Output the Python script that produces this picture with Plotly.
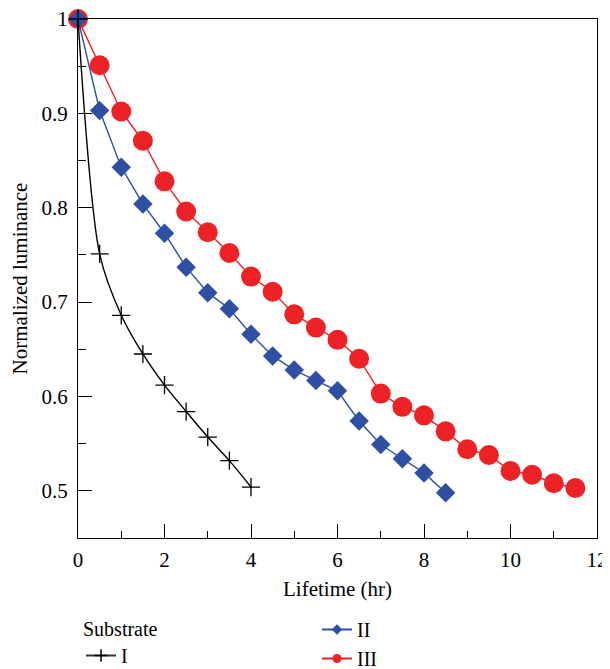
import plotly.graph_objects as go

# ---- data ----
x_I = [0, 0.5, 1.0, 1.5, 2.0, 2.5, 3.0, 3.5, 4.0]
y_I = [1.0, 0.751, 0.686, 0.645, 0.612, 0.584, 0.557, 0.532, 0.504]

x_II = [0, 0.5, 1.0, 1.5, 2.0, 2.5, 3.0, 3.5, 4.0, 4.5, 5.0, 5.5, 6.0, 6.5, 7.0, 7.5, 8.0, 8.5]
y_II = [1.0, 0.903, 0.843, 0.804, 0.773, 0.737, 0.710, 0.693, 0.666, 0.643, 0.628,
        0.617, 0.606, 0.574, 0.549, 0.534, 0.519, 0.498]

x_III = [0, 0.5, 1.0, 1.5, 2.0, 2.5, 3.0, 3.5, 4.0, 4.5, 5.0, 5.5, 6.0, 6.5, 7.0, 7.5,
         8.0, 8.5, 9.0, 9.5, 10.0, 10.5, 11.0, 11.5]
y_III = [1.0, 0.951, 0.902, 0.871, 0.828, 0.796, 0.774, 0.752, 0.727, 0.711, 0.687,
         0.673, 0.660, 0.640, 0.603, 0.589, 0.580, 0.563, 0.544, 0.538, 0.521, 0.517,
         0.508, 0.503]

names = ["I", "II", "III"]
x_ticks = [0, 2, 4, 6, 8, 10, 12]
y_ticks = [0.5, 0.6, 0.7, 0.8, 0.9, 1.0]
y_ticktext = ["0.5", "0.6", "0.7", "0.8", "0.9", "1"]

RED = "#ED2226"
BLUE = "#2E4FA2"
BLACK = "#000000"
FONT = "Liberation Serif"

# the page body has an 8px margin, so the figure is drawn offset by 8px
OFF = 8
W = 610 - OFF
H = 669 - OFF + 24          # a little taller than the window so the legend is not clipped
ML, MR, MT = 78 - OFF, 13, 19 - OFF
PLOT_BOTTOM = 538 - OFF
PAPER_H = H - MT
PAPER_W = W - ML - MR

fig = go.Figure()

# data traces (drawn order: III below, II, I on top)
fig.add_trace(go.Scatter(x=x_III, y=y_III, mode="lines+markers", showlegend=False, cliponaxis=False,
                         line=dict(color=RED, width=1.4),
                         marker=dict(symbol="circle", size=20, color=RED, line=dict(width=0))))
fig.add_trace(go.Scatter(x=x_II, y=y_II, mode="lines+markers", showlegend=False, cliponaxis=False,
                         line=dict(color=BLUE, width=1.4),
                         marker=dict(symbol="diamond", size=15, color=BLUE, line=dict(width=0))))
fig.add_trace(go.Scatter(x=x_I, y=y_I, mode="lines+markers", showlegend=False, cliponaxis=False,
                         line=dict(color=BLACK, width=1.4, shape="spline", smoothing=0.8),
                         marker=dict(symbol="cross-thin", size=13, color=BLACK,
                                     line=dict(width=1.3, color=BLACK))))

# legend entries
fig.add_trace(go.Scatter(x=[None], y=[None], mode="lines+markers", name=names[0],
                         legend="legend",
                         line=dict(color="#333333", width=2),
                         marker=dict(symbol="cross-thin", size=9, color=BLACK,
                                     line=dict(width=1.5, color=BLACK))))
fig.add_trace(go.Scatter(x=[None], y=[None], mode="lines+markers", name=names[1],
                         legend="legend2",
                         line=dict(color=BLUE, width=2),
                         marker=dict(symbol="diamond", size=8, color=BLUE, line=dict(width=0))))
fig.add_trace(go.Scatter(x=[None], y=[None], mode="lines+markers", name=names[2],
                         legend="legend2",
                         line=dict(color=RED, width=2),
                         marker=dict(symbol="circle", size=9, color=RED, line=dict(width=0))))

axis_common = dict(
    showline=True, linecolor=BLACK, linewidth=1.3, mirror=True,
    ticks="inside", tickcolor=BLACK, tickwidth=1.3, ticklen=14,
    showgrid=False, zeroline=False, automargin=False,
    ticklabeloverflow="allow",
    tickfont=dict(family=FONT, size=21, color=BLACK),
)

leg_top = (H - 602) / PAPER_H

fig.update_layout(
    width=W, height=H,
    margin=dict(l=ML, r=MR, t=MT, b=0, autoexpand=False),
    paper_bgcolor="white", plot_bgcolor="white",
    font=dict(family=FONT, size=20, color=BLACK),
    xaxis=dict(range=[0, 12], tickvals=x_ticks, ticklabelstandoff=3,
               minor=dict(dtick=1, tick0=0, ticks="inside", ticklen=7, tickwidth=1.3, tickcolor=BLACK),
               title=dict(text="Lifetime (hr)", standoff=9, font=dict(family=FONT, size=21)),
               **axis_common),
    yaxis=dict(range=[0.45, 1.0], tickvals=y_ticks, ticktext=y_ticktext,
               domain=[(H - PLOT_BOTTOM) / PAPER_H, 1.0],
               ticklabelstandoff=5,
               minor=dict(dtick=0.05, tick0=0.45, ticks="inside", ticklen=8, tickwidth=1.3, tickcolor=BLACK),
               title=dict(text="Normalized luminance", standoff=9, font=dict(family=FONT, size=21)),
               **axis_common),
    legend=dict(x=(73 - ML) / PAPER_W, y=leg_top,
                xanchor="left", yanchor="top",
                title=dict(text="Substrate", font=dict(family=FONT, size=20)),
                font=dict(family=FONT, size=20), bgcolor="rgba(0,0,0,0)",
                tracegroupgap=0, itemwidth=30),
    legend2=dict(x=(309 - ML) / PAPER_W, y=leg_top,
                 xanchor="left", yanchor="top",
                 font=dict(family=FONT, size=20), bgcolor="rgba(0,0,0,0)",
                 tracegroupgap=0, itemwidth=30),
)

fig.write_html("out.html")
